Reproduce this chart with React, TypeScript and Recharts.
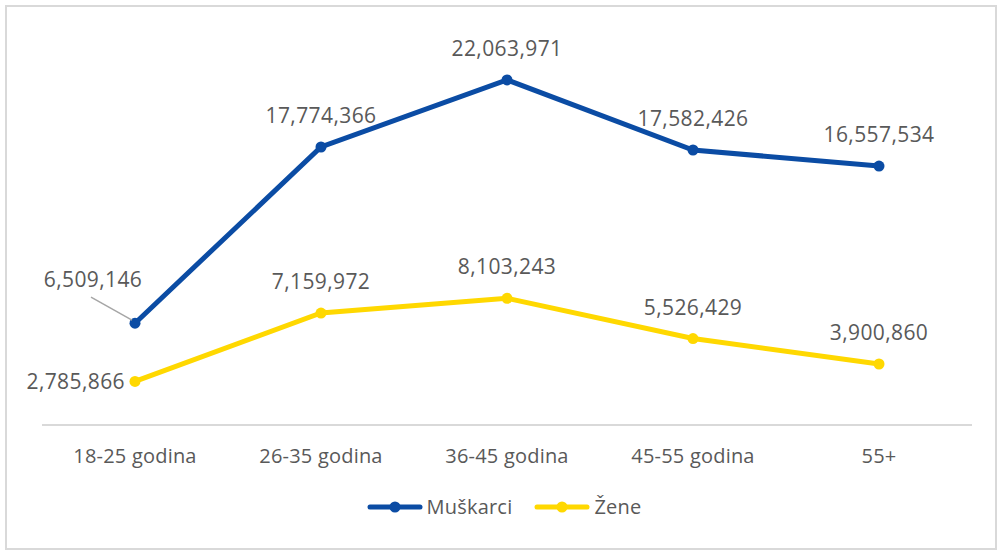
import React from 'react';
import { LineChart, Line, XAxis, YAxis, Legend, LabelList } from 'recharts';

const categories = ['18-25 godina', '26-35 godina', '36-45 godina', '45-55 godina', '55+'];
const muskarci = [6509146, 17774366, 22063971, 17582426, 16557534];
const zene = [2785866, 7159972, 8103243, 5526429, 3900860];
const seriesNames = ['Muškarci', 'Žene'];

const data = categories.map((c, i) => ({ cat: c, m: muskarci[i], z: zene[i] }));

const BLUE = '#0B4CA4';
const YELLOW = '#FFD800';
const TEXT = '#595959';
const FONT = '"Open Sans", sans-serif';
const FS = 21;
const LS = 0.4;

const fmt = (v: number) => Number(v).toLocaleString('en-US');

const MLabel = (props: any) => {
  const { x, y, value, index } = props;
  if (index === 0) {
    return (
      <g>
        <line x1={x - 44} y1={y - 26} x2={x - 3} y2={y - 3} stroke="#a6a6a6" strokeWidth={1.5} />
        <text x={x - 42} y={y - 36} textAnchor="middle" fill={TEXT} fontFamily={FONT} fontSize={FS} letterSpacing={LS}>
          {fmt(value)}
        </text>
      </g>
    );
  }
  return (
    <text x={x} y={y - 24} textAnchor="middle" fill={TEXT} fontFamily={FONT} fontSize={FS} letterSpacing={LS}>
      {fmt(value)}
    </text>
  );
};

const ZLabel = (props: any) => {
  const { x, y, value, index } = props;
  if (index === 0) {
    return (
      <text x={x - 10} y={y + 8} textAnchor="end" fill={TEXT} fontFamily={FONT} fontSize={FS} letterSpacing={LS}>
        {fmt(value)}
      </text>
    );
  }
  return (
    <text x={x} y={y - 24} textAnchor="middle" fill={TEXT} fontFamily={FONT} fontSize={FS} letterSpacing={LS}>
      {fmt(value)}
    </text>
  );
};

const Tick = (props: any) => {
  const { x, y, payload } = props;
  return (
    <text x={x} y={y + 38} textAnchor="middle" fill={TEXT} fontFamily={FONT} fontSize={20} letterSpacing={0.2}>
      {payload.value}
    </text>
  );
};

const LegendIcon = ({ color }: { color: string }) => (
  <svg width={56} height={14} style={{ display: 'block' }}>
    <line x1={3} y1={7} x2={53} y2={7} stroke={color} strokeWidth={5} strokeLinecap="round" />
    <circle cx={28} cy={7} r={5.5} fill={color} />
  </svg>
);

const LegendContent = () => (
  <div style={{ display: 'flex', justifyContent: 'center', alignItems: 'center', height: 30, paddingLeft: 10 }}>
    {seriesNames.map((n, i) => (
      <div key={n} style={{ display: 'flex', alignItems: 'center', marginRight: i === 0 ? 22 : 0 }}>
        <LegendIcon color={i === 0 ? BLUE : YELLOW} />
        <span style={{ marginLeft: 4, fontFamily: FONT, fontSize: 20, letterSpacing: 0.2, color: TEXT, lineHeight: '30px' }}>{n}</span>
      </div>
    ))}
  </div>
);

export default function App() {
  return (
    <div style={{ position: 'absolute', left: 0, top: 0, width: 998, height: 553, background: '#fff' }}>
      <div
        style={{
          position: 'absolute',
          left: 5,
          top: 5,
          width: 988,
          height: 541,
          border: '2px solid #d9d9d9',
        }}
      />
      <div style={{ position: 'absolute', left: 0, top: 0 }}>
        <LineChart width={998} height={553} data={data} margin={{ top: 34, right: 26, left: 42, bottom: 58 }}>
          <XAxis
            dataKey="cat"
            axisLine={{ stroke: '#d9d9d9', strokeWidth: 2 }}
            tickLine={false}
            tickSize={0}
            tickMargin={0}
            height={40}
            padding={{ left: 93, right: 93 }}
            tick={<Tick />}
            interval={0}
          />
          <YAxis hide domain={[0, 25000000]} />
          <Legend
            verticalAlign="bottom"
            content={<LegendContent />}
            wrapperStyle={{ position: 'absolute', top: 492, left: 0, width: 998, height: 30 }}
          />
          <Line
            name={seriesNames[0]}
            dataKey="m"
            type="linear"
            stroke={BLUE}
            strokeWidth={5}
            dot={{ r: 5.5, fill: BLUE, stroke: BLUE, strokeWidth: 0 }}
            activeDot={false}
            isAnimationActive={false}
          >
            <LabelList dataKey="m" content={<MLabel />} />
          </Line>
          <Line
            name={seriesNames[1]}
            dataKey="z"
            type="linear"
            stroke={YELLOW}
            strokeWidth={5}
            dot={{ r: 5.5, fill: YELLOW, stroke: YELLOW, strokeWidth: 0 }}
            activeDot={false}
            isAnimationActive={false}
          >
            <LabelList dataKey="z" content={<ZLabel />} />
          </Line>
        </LineChart>
      </div>
    </div>
  );
}
